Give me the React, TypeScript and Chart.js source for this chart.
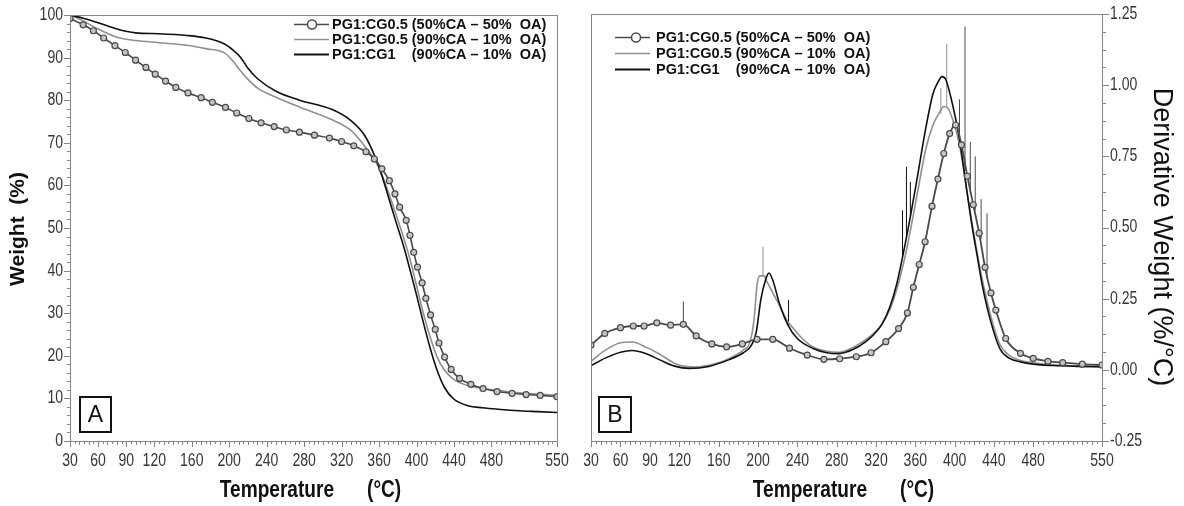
import React, { useEffect, useRef } from "react";
import { Chart, registerables } from "chart.js";

Chart.register(...registerables);

// ---------- DATA ----------
// Panel A (TGA): weight % vs temperature
const tgaS1Temp = [30, 44, 55, 66, 78, 89, 100, 111, 121, 132, 143, 156, 170, 182, 196, 208, 221, 234, 248, 261, 275, 291, 307, 320, 333, 346, 355, 363, 371, 377, 382, 389, 393, 397, 401, 406, 410, 415, 420, 424, 430, 437, 446, 458, 471, 486, 502, 517, 532, 550];
const tgaS1Weight = [99.2, 97.7, 96.3, 94.6, 92.8, 91.2, 89.4, 87.7, 86.1, 84.5, 83.0, 81.7, 80.6, 79.5, 78.3, 77.0, 75.7, 74.7, 73.8, 73.0, 72.5, 71.8, 71.1, 70.3, 69.3, 67.9, 66.2, 63.9, 61.1, 58.0, 54.9, 51.8, 48.3, 44.3, 40.8, 37.1, 33.5, 29.6, 26.2, 23.0, 19.7, 16.8, 14.7, 13.3, 12.3, 11.6, 11.2, 10.9, 10.7, 10.4];

const tgaTemp = [30, 45, 60, 80, 100, 125, 155, 175, 195, 205, 212, 220, 230, 250, 275, 310, 330, 345, 355, 362, 370, 378, 386, 394, 400, 408, 415, 422, 430, 440, 455, 470, 490, 510, 530, 550];
const tgaS2Weight = [100, 98.5, 96.7, 94.8, 94.0, 93.5, 92.9, 92.1, 91.1, 88.9, 86.9, 84.9, 82.9, 80.7, 78.4, 75.4, 72.9, 69.1, 66.1, 63.1, 58.4, 53.2, 47.9, 41.9, 36.5, 29.4, 24.1, 19.7, 16.6, 14.4, 13.0, 12.4, 11.8, 11.3, 11.0, 10.7];
const tgaS3Weight = [100, 99.2, 98.2, 96.7, 95.8, 95.6, 95.2, 94.6, 93.2, 91.6, 90.1, 87.5, 85.1, 82.1, 80.0, 77.8, 75.2, 71.6, 67.1, 63.0, 57.3, 51.5, 45.9, 39.4, 34.3, 27.2, 21.5, 16.6, 12.5, 9.8, 8.3, 7.8, 7.4, 7.1, 6.9, 6.7];

// Panel B (DTG): derivative weight %/°C vs temperature
const dtgS1Temp = [30, 44, 60, 73, 84, 97, 111, 124, 137, 153, 168, 184, 199, 215, 232, 250, 267, 283, 300, 315, 330, 343, 352, 358, 364, 370, 377, 383, 389, 395, 401, 407, 413, 419, 425, 431, 437, 442, 452, 467, 480, 495, 510, 530, 550];
const dtgS1Value = [0.087, 0.128, 0.148, 0.154, 0.154, 0.165, 0.157, 0.160, 0.119, 0.091, 0.081, 0.091, 0.107, 0.107, 0.076, 0.052, 0.037, 0.039, 0.046, 0.060, 0.099, 0.145, 0.200, 0.290, 0.370, 0.450, 0.575, 0.670, 0.760, 0.830, 0.860, 0.790, 0.680, 0.580, 0.480, 0.360, 0.270, 0.210, 0.110, 0.058, 0.040, 0.030, 0.025, 0.020, 0.017];

const dtgS2Temp = [30, 45, 60, 72, 87, 100, 117, 137, 155, 171, 185, 192, 196, 199, 202, 206, 209, 215, 222, 230, 236, 245, 256, 270, 283, 300, 315, 325, 334, 341, 351, 361, 371, 378, 384, 389, 393, 398, 405, 412, 418, 423, 428, 436, 446, 456, 467, 480, 500, 525, 550];
const dtgS2Value = [0.030, 0.070, 0.095, 0.098, 0.078, 0.055, 0.020, 0.010, 0.020, 0.040, 0.070, 0.100, 0.180, 0.300, 0.330, 0.330, 0.310, 0.270, 0.225, 0.170, 0.145, 0.110, 0.080, 0.065, 0.062, 0.085, 0.120, 0.155, 0.210, 0.280, 0.420, 0.600, 0.780, 0.860, 0.900, 0.925, 0.920, 0.880, 0.790, 0.640, 0.510, 0.410, 0.320, 0.200, 0.090, 0.050, 0.033, 0.025, 0.018, 0.014, 0.012];

const dtgS3Temp = [30, 45, 60, 72, 85, 100, 115, 130, 150, 170, 185, 193, 198, 203, 208, 211, 215, 222, 230, 240, 256, 270, 282, 297, 310, 318, 326, 334, 341, 351, 361, 371, 378, 383, 387, 391, 396, 405, 412, 418, 423, 428, 436, 446, 456, 467, 480, 500, 525, 550];
const dtgS3Value = [0.015, 0.042, 0.062, 0.068, 0.058, 0.035, 0.013, 0.005, 0.012, 0.035, 0.060, 0.085, 0.130, 0.250, 0.320, 0.340, 0.315, 0.230, 0.160, 0.110, 0.075, 0.060, 0.057, 0.072, 0.100, 0.125, 0.160, 0.220, 0.300, 0.465, 0.655, 0.855, 0.970, 1.010, 1.030, 1.020, 0.960, 0.810, 0.640, 0.500, 0.400, 0.300, 0.180, 0.075, 0.040, 0.028, 0.020, 0.015, 0.012, 0.010];

// noise spikes (temperature, curve level, spike top)
const spikeS1Temp = [124, 405, 410.6, 416, 421, 427, 433];
const spikeS1Base = [0.160, 0.830, 0.700, 0.620, 0.560, 0.460, 0.320];
const spikeS1Top = [0.240, 0.950, 1.206, 0.800, 0.750, 0.600, 0.550];
const spikeS2Temp = [205, 386, 392];
const spikeS2Base = [0.330, 0.900, 0.920];
const spikeS2Top = [0.432, 0.990, 1.145];
const spikeS3Temp = [231, 347, 351, 355];
const spikeS3Base = [0.155, 0.390, 0.465, 0.540];
const spikeS3Top = [0.245, 0.560, 0.713, 0.660];

// Ticks and labels
const xTickValues = [30, 60, 90, 120, 160, 200, 240, 280, 320, 360, 400, 440, 480, 550];
const yTickValuesA = [0, 10, 20, 30, 40, 50, 60, 70, 80, 90, 100];
const yTickValuesB = [-0.25, 0, 0.25, 0.5, 0.75, 1.0, 1.25];
const seriesNames = ["PG1:CG0.5 (50%CA \u2013 50%  OA)", "PG1:CG0.5 (90%CA \u2013 10%  OA)", "PG1:CG1"];
const series3Suffix = "(90%CA \u2013 10%  OA)";
const xTitle = "Temperature";
const xUnit = "(\u00B0C)";
const yTitleA = "Weight  (%)";
const yTitleB = "Derivative Weight (%/\u00B0C)";

// ---------- STYLE ----------
const SANS = '"Liberation Sans", Arial, sans-serif';
const FRAME = "#858585";
const TICK_TXT = "#353535";
const C1 = "#4a4a4a";
const C2 = "#8f8f8f";
const C3 = "#101010";
const MARKER_FILL = "#c4c4c4";

const pts = (xs: number[], ys: number[]) => xs.map((x, i) => ({ x, y: ys[i] }));
const spikePts = (xs: number[], base: number[], top: number[]) =>
  xs.flatMap((x, i) => [{ x, y: base[i] }, { x, y: top[i] }, { x, y: null as any }]);

function narrowText(ctx: CanvasRenderingContext2D, text: string, x: number, y: number, font: string, sx: number, align: CanvasTextAlign) {
  ctx.save();
  ctx.translate(x, y);
  ctx.scale(sx, 1);
  ctx.font = font;
  ctx.textAlign = align;
  ctx.textBaseline = "middle";
  ctx.fillText(text, 0, 0);
  ctx.restore();
}

function drawLegend(ctx: CanvasRenderingContext2D, x0: number, x1: number, mx: number, tx: number, rows: number[]) {
  ctx.save();
  ctx.font = `bold 14.5px ${SANS}`;
  ctx.textBaseline = "middle";
  ctx.textAlign = "left";
  const colors = [C1, C2, C3];
  rows.forEach((ry, i) => {
    ctx.strokeStyle = colors[i];
    ctx.lineWidth = i === 2 ? 2 : 1.6;
    ctx.beginPath();
    ctx.moveTo(x0, ry + 0.5);
    ctx.lineTo(x1, ry + 0.5);
    ctx.stroke();
    if (i === 0) {
      ctx.fillStyle = "#ffffff";
      ctx.lineWidth = 1.5;
      ctx.beginPath();
      ctx.arc(mx, ry + 0.5, 4.5, 0, Math.PI * 2);
      ctx.fill();
      ctx.stroke();
    }
    ctx.fillStyle = "#111";
    ctx.fillText(seriesNames[i], tx, ry + 1);
  });
  const off = ctx.measureText("PG1:CG0.5 ").width;
  ctx.fillText(series3Suffix, tx + off, rows[2] + 1);
  ctx.restore();
}

function drawBoxLabel(ctx: CanvasRenderingContext2D, x: number, y: number, w: number, h: number, t: string) {
  ctx.save();
  ctx.fillStyle = "#fff";
  ctx.fillRect(x, y, w, h);
  ctx.strokeStyle = "#111";
  ctx.lineWidth = 2;
  ctx.strokeRect(x, y, w, h);
  ctx.fillStyle = "#111";
  ctx.font = `23px ${SANS}`;
  ctx.textAlign = "center";
  ctx.textBaseline = "middle";
  ctx.fillText(t, x + w / 2, y + h / 2 + 1);
  ctx.restore();
}

function makeDeco(panel: "A" | "B", offsetX: number) {
  return {
    id: "deco" + panel,
    afterDraw(chart: any) {
      const ctx: CanvasRenderingContext2D = chart.ctx;
      const { left, right, top, bottom } = chart.chartArea;
      const xs = chart.scales.x;
      const ys = chart.scales.y;
      ctx.save();
      // frame
      ctx.strokeStyle = FRAME;
      ctx.lineWidth = 1;
      ctx.strokeRect(Math.round(left) + 0.5, Math.round(top) + 0.5, Math.round(right - left), Math.round(bottom - top));
      // x ticks
      ctx.beginPath();
      for (let v = 30; v <= 550; v += 5) {
        const p = Math.round(xs.getPixelForValue(v)) + 0.5;
        const len = xTickValues.includes(v) ? 6 : v % 10 === 0 ? 4 : 3;
        ctx.moveTo(p, Math.round(bottom));
        ctx.lineTo(p, Math.round(bottom) + len);
      }
      // y ticks
      if (panel === "A") {
        for (let v = 0; v <= 100; v += 2) {
          const p = Math.round(ys.getPixelForValue(v)) + 0.5;
          const len = v % 10 === 0 ? 6 : 3;
          ctx.moveTo(Math.round(left), p);
          ctx.lineTo(Math.round(left) - len, p);
        }
      } else {
        for (let k = 0; k <= 24; k++) {
          const v = -0.25 + k * 0.0625;
          const p = Math.round(ys.getPixelForValue(v)) + 0.5;
          const len = k % 4 === 0 ? 6 : 3;
          ctx.moveTo(Math.round(right) + 1, p);
          ctx.lineTo(Math.round(right) + 1 + len, p);
        }
      }
      ctx.stroke();

      // tick labels
      ctx.fillStyle = TICK_TXT;
      const tickFont = `18px ${SANS}`;
      xTickValues.forEach((v) => {
        narrowText(ctx, String(v), xs.getPixelForValue(v), 461, tickFont, 0.78, "center");
      });
      if (panel === "A") {
        yTickValuesA.forEach((v) => {
          narrowText(ctx, String(v), left - 7, ys.getPixelForValue(v), tickFont, 0.78, "right");
        });
      } else {
        yTickValuesB.forEach((v) => {
          narrowText(ctx, v.toFixed(2), right + 8, ys.getPixelForValue(v), tickFont, 0.78, "left");
        });
      }

      // axis titles
      ctx.fillStyle = "#111";
      const tFont = `bold 23px ${SANS}`;
      const sx = 0.83;
      ctx.font = tFont;
      const wT = ctx.measureText(xTitle).width * sx;
      const wU = ctx.measureText(xUnit).width * sx;
      const gap = 33;
      const total = wT + gap + wU;
      const cx = (left + right) / 2 - 3;
      narrowText(ctx, xTitle, cx - total / 2, 491, tFont, sx, "left");
      narrowText(ctx, xUnit, cx - total / 2 + wT + gap, 491, tFont, sx, "left");

      if (panel === "A") {
        ctx.save();
        ctx.translate(18, 229);
        ctx.rotate(-Math.PI / 2);
        ctx.font = `bold 21px ${SANS}`;
        ctx.textAlign = "center";
        ctx.textBaseline = "middle";
        ctx.fillText(yTitleA, 0, 0);
        ctx.restore();
        drawLegend(ctx, 294, 329, 312, 332, [24, 39, 54]);
        drawBoxLabel(ctx, 80, 397, 31, 35, "A");
      } else {
        ctx.save();
        ctx.translate(1161 - offsetX, 237);
        ctx.rotate(Math.PI / 2);
        ctx.font = `27px ${SANS}`;
        ctx.textAlign = "center";
        ctx.textBaseline = "middle";
        ctx.fillText(yTitleB, 0, 0);
        ctx.restore();
        drawLegend(ctx, 615 - offsetX, 650 - offsetX, 636 - offsetX, 656 - offsetX, [37, 53, 69]);
        drawBoxLabel(ctx, 599 - offsetX, 397, 32, 35, "B");
      }
      ctx.restore();
    },
  };
}

function xScale() {
  return {
    type: "linear" as const,
    min: 30,
    max: 550,
    afterBuildTicks: (s: any) => {
      s.ticks = xTickValues.map((v) => ({ value: v }));
    },
    ticks: { display: false },
    grid: { display: false, drawTicks: false },
    border: { display: false },
    afterFit: (s: any) => {
      s.height = 65;
    },
  };
}

function lineDs(label: string, data: any[], color: string, width: number, markers: boolean) {
  return {
    label,
    data,
    showLine: true,
    borderColor: color,
    backgroundColor: color,
    borderWidth: width,
    pointRadius: markers ? 3 : 0,
    pointBorderWidth: 1.2,
    pointBorderColor: color,
    pointBackgroundColor: MARKER_FILL,
    cubicInterpolationMode: "monotone" as const,
    tension: 0.4,
    spanGaps: false,
  };
}

function spikeDs(data: any[], color: string) {
  return {
    label: "_spike",
    data,
    showLine: true,
    borderColor: color,
    borderWidth: 1,
    pointRadius: 0,
    tension: 0,
    spanGaps: false,
  };
}

export default function App() {
  const refA = useRef<HTMLCanvasElement>(null);
  const refB = useRef<HTMLCanvasElement>(null);

  useEffect(() => {
    document.body.style.margin = "0";
    const common = {
      responsive: false,
      animation: false as const,
      plugins: { legend: { display: false }, tooltip: { enabled: false } },
      events: [] as any[],
    };

    const chartA = new Chart(refA.current!, {
      type: "scatter",
      data: {
        datasets: [
          lineDs(seriesNames[0], pts(tgaS1Temp, tgaS1Weight), C1, 1.6, true),
          lineDs(seriesNames[2], pts(tgaTemp, tgaS3Weight), C3, 1.6, false),
          lineDs(seriesNames[1], pts(tgaTemp, tgaS2Weight), C2, 1.6, false),
        ] as any,
      },
      options: {
        ...common,
        layout: { padding: { left: 0, top: 15, right: 18, bottom: 0 } },
        scales: {
          x: xScale() as any,
          y: {
            type: "linear",
            min: 0,
            max: 100,
            afterBuildTicks: (s: any) => {
              s.ticks = yTickValuesA.map((v) => ({ value: v }));
            },
            ticks: { display: false },
            grid: { display: false, drawTicks: false },
            border: { display: false },
            afterFit: (s: any) => {
              s.width = 70;
            },
          } as any,
        },
      } as any,
      plugins: [makeDeco("A", 0)],
    });

    const chartB = new Chart(refB.current!, {
      type: "scatter",
      data: {
        datasets: [
          lineDs(seriesNames[0], pts(dtgS1Temp, dtgS1Value), C1, 1.8, true),
          lineDs(seriesNames[2], pts(dtgS3Temp, dtgS3Value), C3, 1.6, false),
          lineDs(seriesNames[1], pts(dtgS2Temp, dtgS2Value), C2, 1.6, false),
          spikeDs(spikePts(spikeS1Temp, spikeS1Base, spikeS1Top), C1),
          spikeDs(spikePts(spikeS3Temp, spikeS3Base, spikeS3Top), C3),
          spikeDs(spikePts(spikeS2Temp, spikeS2Base, spikeS2Top), C2),
        ] as any,
      },
      options: {
        ...common,
        layout: { padding: { left: 16, top: 14, right: 0, bottom: 0 } },
        scales: {
          x: xScale() as any,
          y: {
            type: "linear",
            position: "right",
            min: -0.25,
            max: 1.25,
            afterBuildTicks: (s: any) => {
              s.ticks = yTickValuesB.map((v) => ({ value: v }));
            },
            ticks: { display: false },
            grid: { display: false, drawTicks: false },
            border: { display: false },
            afterFit: (s: any) => {
              s.width = 82;
            },
          } as any,
        },
      } as any,
      plugins: [makeDeco("B", 575)],
    });

    return () => {
      chartA.destroy();
      chartB.destroy();
    };
  }, []);

  return (
    <div style={{ position: "absolute", left: 0, top: 0, width: 1184, height: 506, background: "#fff" }}>
      <canvas ref={refA} width={575} height={506} style={{ position: "absolute", left: 0, top: 0 }} />
      <canvas ref={refB} width={609} height={506} style={{ position: "absolute", left: 575, top: 0 }} />
    </div>
  );
}
